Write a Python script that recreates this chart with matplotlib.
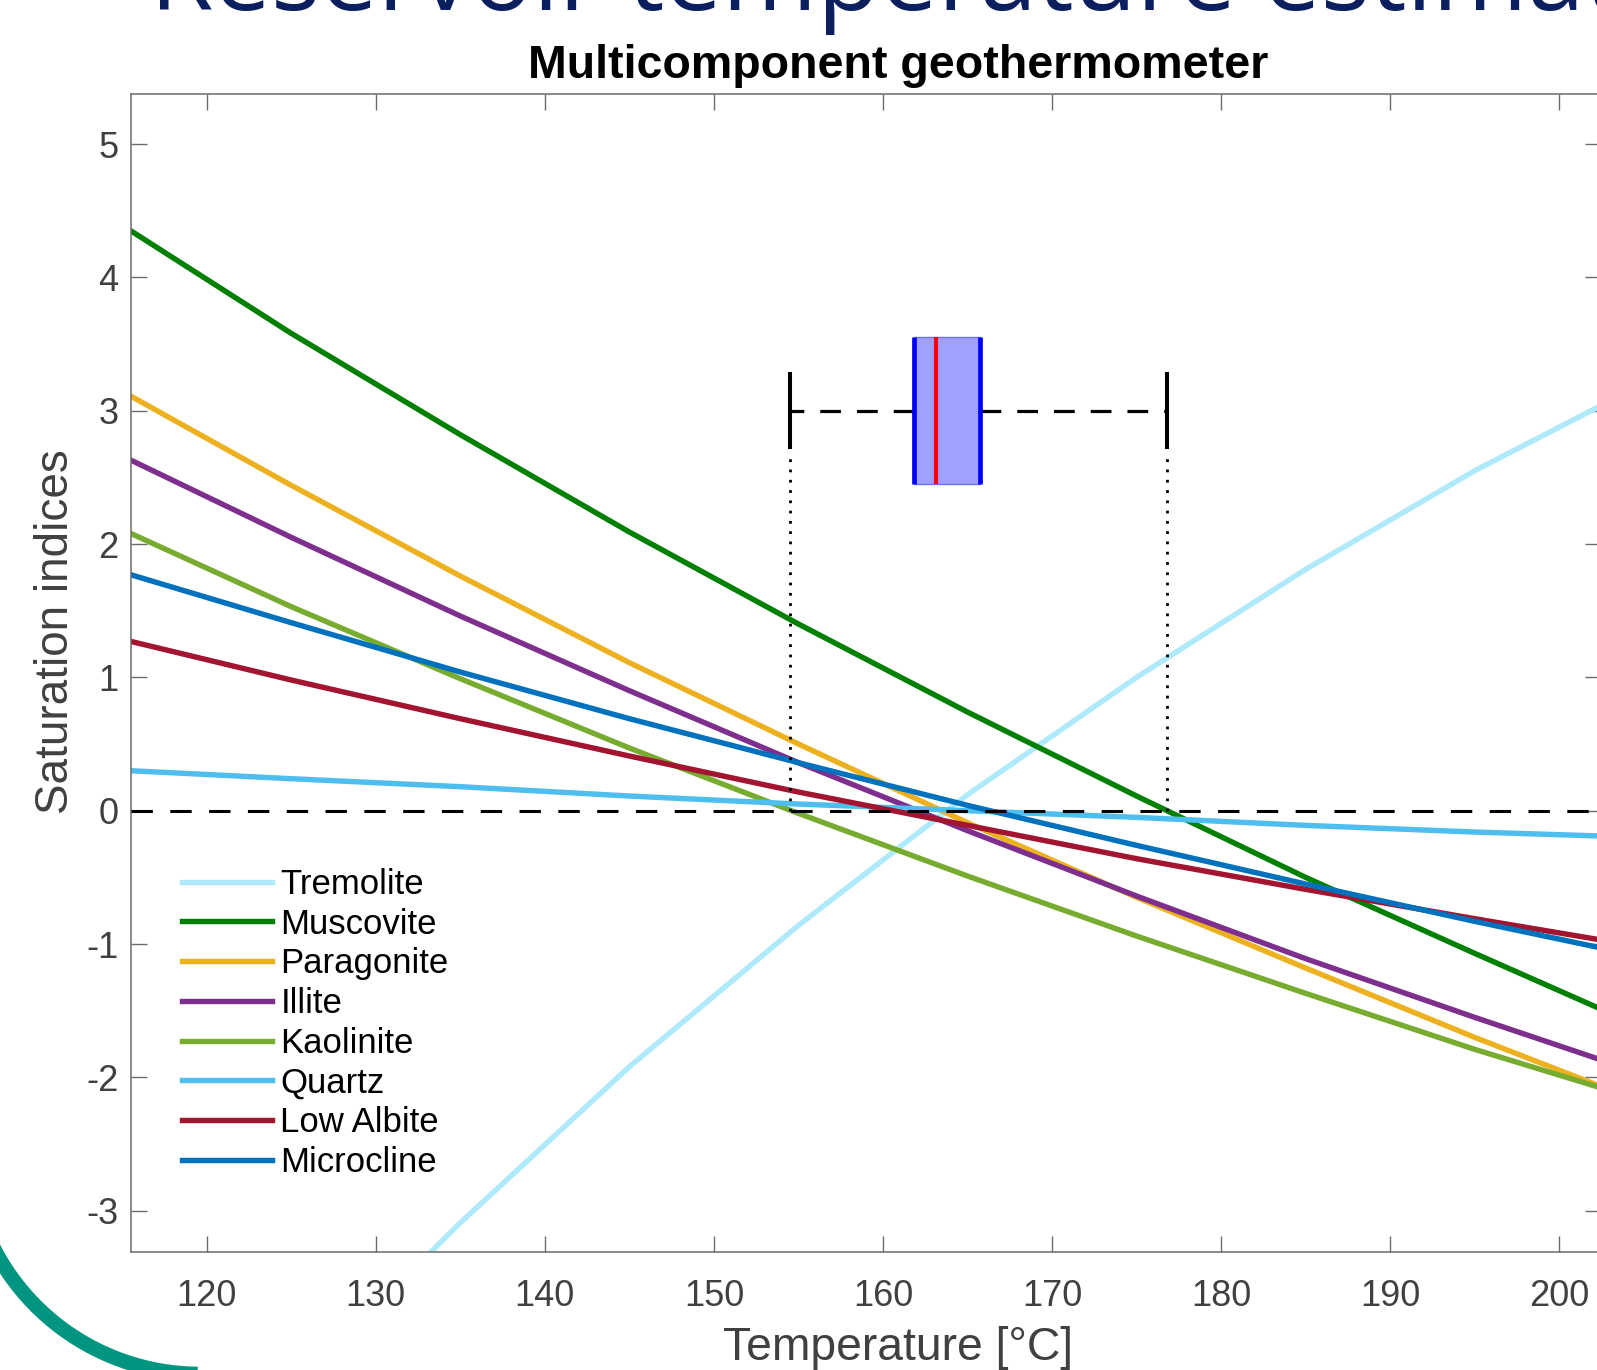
import numpy as np
import matplotlib
matplotlib.use('Agg')
import matplotlib.pyplot as plt
from matplotlib.patches import Arc

plt.rcParams['font.family'] = ['Liberation Sans', 'DejaVu Sans']
plt.rcParams['axes.unicode_minus'] = False

# Data
temperature_c = [115.5, 125, 135, 145, 155, 165, 175, 185, 195, 202.5]

tremolite = [-5.6, -4.35, -3.09, -1.92, -0.86, 0.12, 1.00, 1.81, 2.55, 3.04]
muscovite = [4.35, 3.58, 2.82, 2.09, 1.40, 0.74, 0.11, -0.50, -1.07, -1.49]
paragonite = [3.11, 2.44, 1.76, 1.11, 0.50, -0.09, -0.65, -1.18, -1.70, -2.07]
illite = [2.63, 2.05, 1.46, 0.90, 0.36, -0.15, -0.64, -1.11, -1.55, -1.87]
kaolinite = [2.08, 1.53, 0.99, 0.47, -0.02, -0.49, -0.94, -1.37, -1.79, -2.08]
quartz = [0.30, 0.24, 0.18, 0.11, 0.05, 0.00, -0.05, -0.11, -0.16, -0.19]
low_albite = [1.27, 0.98, 0.69, 0.41, 0.14, -0.11, -0.36, -0.59, -0.81, -0.97]
microcline = [1.77, 1.41, 1.04, 0.69, 0.36, 0.04, -0.26, -0.55, -0.83, -1.03]

mineral_names = ['Tremolite', 'Muscovite', 'Paragonite', 'Illite', 'Kaolinite',
                 'Quartz', 'Low Albite', 'Microcline']
mineral_values = [tremolite, muscovite, paragonite, illite, kaolinite,
                  quartz, low_albite, microcline]
mineral_colors = ['#aee9fc', '#008000', '#edb120', '#7e2f8e', '#77ac30',
                  '#4dbeee', '#a2142f', '#0072bd']

# Box of equilibrium temperatures
box_whislo = 154.5
box_q1 = 161.85
box_median = 163.15
box_q3 = 165.75
box_whishi = 176.8
box_position = 3
box_width = 1.1

x_ticks = np.arange(120, 201, 10)
y_ticks = np.arange(-3, 6, 1)

# Figure setup
W, H = 1597, 1370
fig = plt.figure(figsize=(W / 100, H / 100), dpi=100)

# slide decorations
fig.text(150 / W, 1 - 10 / H, 'Reservoir temperature estimation', fontsize=74,
         color='#0b1f5e', family='Open Sans', ha='left', va='baseline')
arc = Arc((200 / W, 1 - 1142 / H), 2 * 232 / W, 2 * 232 / H, theta1=195, theta2=269.5,
          transform=fig.transFigure, color='#009580', lw=10.5, zorder=0)
fig.add_artist(arc)

axes = fig.add_axes([131 / W, 1 - 1252.3 / H, 1470 / W, 1158 / H])

for name, values, color in zip(mineral_names, mineral_values, mineral_colors):
    axes.plot(temperature_c, values, color=color, lw=3.9, label=name, zorder=2)

axes.axhline(0, color='k', lw=2.2, ls=(0, (7, 5.7)), zorder=3)

stats = [dict(whislo=box_whislo, q1=box_q1, med=box_median, q3=box_q3,
              whishi=box_whishi, fliers=[])]
axes.bxp(stats, positions=[box_position], widths=box_width, orientation='horizontal',
         patch_artist=True, showfliers=False, manage_ticks=False,
         boxprops=dict(facecolor='#a0a0ff', edgecolor='#7070ff', lw=1),
         whiskerprops=dict(color='k', lw=2.3, ls=(0, (6.5, 5))),
         capprops=dict(color='k', lw=2.9),
         medianprops=dict(color='#ff0000', lw=3.0),
         zorder=5)
axes.vlines([box_q1, box_q3], box_position - box_width / 2, box_position + box_width / 2,
            colors='#0000ff', lw=3.4, zorder=6)
axes.vlines([box_whislo, box_whishi], 0, box_position - box_width / 4 - 0.06,
            colors='k', lw=2.0, ls=(0, (1, 2.7)), zorder=4)

axes.set_xlim(115.52, 202.47)
axes.set_ylim(-3.312, 5.373)
axes.set_xticks(x_ticks)
axes.set_yticks(y_ticks)

axes.tick_params(direction='in', length=11.3, width=1.0, color='#6b6b6b',
                 labelcolor='#404040', labelsize=26, top=True, right=True)
axes.tick_params(axis='x', pad=19)
axes.tick_params(axis='y', pad=9)
for spine in axes.spines.values():
    spine.set_color('#6b6b6b')
    spine.set_linewidth(1.1)

axes.text(0.5218, 1.0138, 'Multicomponent geothermometer', transform=axes.transAxes,
          fontsize=33.5, fontweight='bold', color='k', ha='center', va='baseline')
axes.text(0.5215, -0.093, 'Temperature [°C]', transform=axes.transAxes,
          fontsize=33.3, color='#404040', ha='center', va='baseline')
axes.text(-0.0429, 0.5361, 'Saturation indices', transform=axes.transAxes,
          fontsize=33, color='#404040', ha='center', va='baseline',
          rotation=90, rotation_mode='anchor')

axes.legend(loc='upper left', bbox_to_anchor=(0.0345, 0.332), frameon=False,
            fontsize=25, handlelength=2.6, handletextpad=0.24, labelspacing=0.194,
            borderpad=0, borderaxespad=0)

fig.savefig('out.png', dpi=100)
